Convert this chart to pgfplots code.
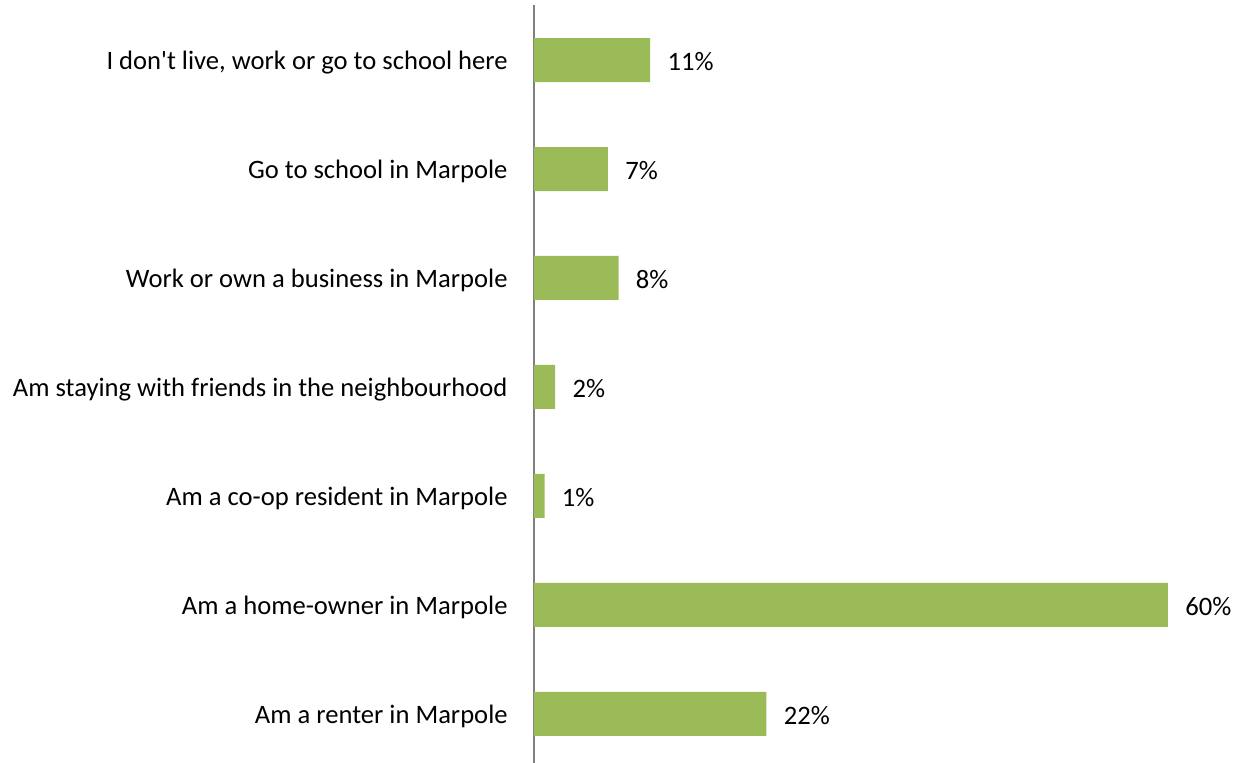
\documentclass[border=0pt]{standalone}
\usepackage{fontspec}
\setmainfont{Carlito}
\usepackage{pgfplots}
\pgfplotsset{compat=1.18}
\definecolor{bargreen}{RGB}{155,187,89}
\definecolor{axisgray}{RGB}{128,128,128}

\begin{document}
\begin{tikzpicture}
    \begin{axis}[
            scale only axis,
            width=317pt,
            height=379pt,
            xmin=0, xmax=60,
            ymin=-0.45, ymax=6.505,
            axis x line=none,
            axis y line=left,
            y axis line style={-, draw=axisgray, line width=0.6pt},
            ytick={0,...,6},
            yticklabels={
                Am a renter in Marpole,
                Am a home-owner in Marpole,
                Am a co-op resident in Marpole,
                Am staying with friends in the neighbourhood,
                Work or own a business in Marpole,
                Go to school in Marpole,
                I don\textquotesingle t live{,} work or go to school here},
            major tick length=0pt,
            y tick label style={font=\fontsize{13.3}{15}\selectfont, anchor=east, inner sep=0pt, xshift=-13pt, yshift=-1.2pt},
            xbar,
            bar width=22pt,
            clip=false,
            /pgf/number format/assume math mode=true,
            nodes near coords={\pgfmathprintnumber{\pgfplotspointmeta}\%},
            every node near coord/.append style={font=\fontsize{13.3}{15}\selectfont, anchor=west, inner sep=0pt, xshift=8.5pt, yshift=-1pt, text=black},
        ]
        \addplot[fill=bargreen, draw=none] coordinates {
            (22,0) (60,1) (1,2) (2,3) (8,4) (7,5) (11,6)
        };
    \end{axis}
    \pgfresetboundingbox
    \path (-267pt,0pt) rectangle (352pt,381.5pt);
\end{tikzpicture}
\end{document}
